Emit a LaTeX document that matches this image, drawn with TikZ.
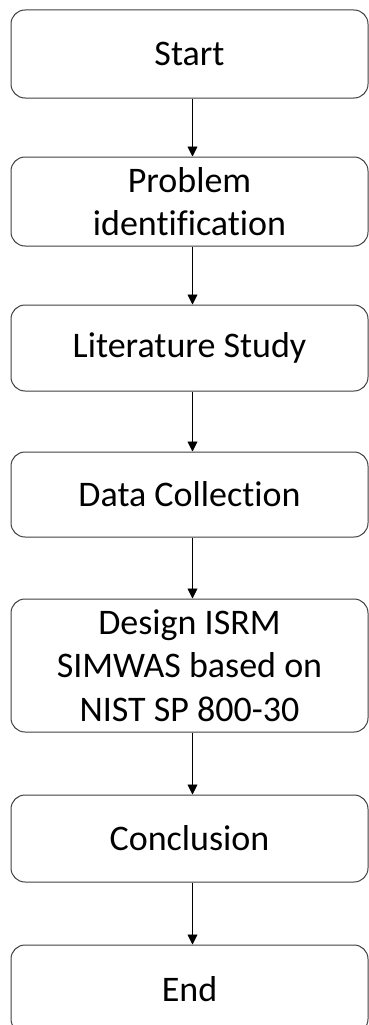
\documentclass[tikz,border=0pt]{standalone}
\usepackage{fontspec}
\setmainfont[Ligatures=NoCommon]{Carlito}
\usetikzlibrary{arrows.meta}
\begin{document}
\begin{tikzpicture}[x=1pt,y=1pt,
  box/.style={draw=black!75, line width=1pt, rounded corners=14pt,
    minimum width=357pt, align=center, inner sep=0pt,
    font=\fontsize{36}{43.5}\selectfont},
  arr/.style={-{Triangle[length=10pt,width=10pt]}, line width=0.9pt, draw=black}]
\useasboundingbox (0,0) rectangle (369,-1025);
\clip (0,0) rectangle (369,-1025);
\fill[white] (0,0) rectangle (369,-1025);
\node[box, minimum height=88pt] (start) at (189.5,-54) {Start};
\node[box, minimum height=89pt] (prob) at (189.5,-201.5) {Problem\\identification};
\node[box, minimum height=86pt] (lit) at (189.5,-348) {Literature Study};
\node[box, minimum height=85pt] (data) at (189.5,-494.5) {Data Collection};
\node[box, minimum height=133pt] (design) at (189.5,-665.5) {Design ISRM\\SIMWAS based on\\NIST SP 800-30};
\node[box, minimum height=87pt] (concl) at (189.5,-838.5) {Conclusion};
\node[box, minimum height=88pt] (end) at (189.5,-989) {End};
\draw[arr] ([xshift=3pt]start.south) -- ([xshift=3pt]prob.north);
\draw[arr] ([xshift=3pt]prob.south) -- ([xshift=3pt]lit.north);
\draw[arr] ([xshift=3pt]lit.south) -- ([xshift=3pt]data.north);
\draw[arr] ([xshift=3pt]data.south) -- ([xshift=3pt]design.north);
\draw[arr] ([xshift=3pt]design.south) -- ([xshift=3pt]concl.north);
\draw[arr] ([xshift=3pt]concl.south) -- ([xshift=3pt]end.north);
\end{tikzpicture}
\end{document}
